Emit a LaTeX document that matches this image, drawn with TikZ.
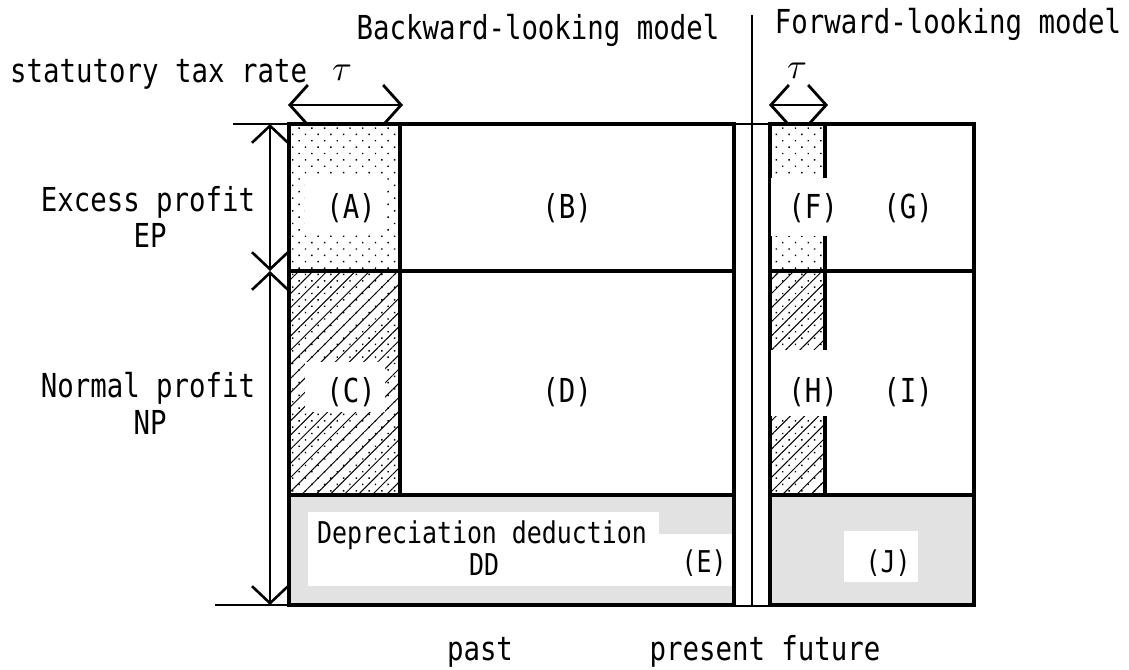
\documentclass[tikz,border=0pt]{standalone}
\usepackage{fontspec}
\newfontfamily\gfont[FakeStretch=0.83]{DejaVu Sans Mono}
\usetikzlibrary{patterns.meta,arrows.meta}
\definecolor{ddgray}{RGB}{226,226,226}
\tikzset{
  txt/.style={font=\gfont\fontsize{33}{36}\selectfont, inner sep=0pt, anchor=base},
  stxt/.style={font=\gfont\fontsize{30}{34}\selectfont, inner sep=0pt, anchor=base},
  taustyle/.style={inner sep=0pt, anchor=base},
  outerbox/.style={line width=4pt},
  innerline/.style={line width=3.5pt},
  thinline/.style={line width=1.3pt},
  dotfill/.style={pattern={Dots[distance=9pt,angle=45,radius=1pt]}},
  hatchfill/.style={pattern={Lines[angle=45,distance=10pt,line width=1pt]}},
  whitebox/.style={fill=white, draw=none},
  barb/.tip={Straight Barb[length=18pt,width=40pt,line width=2.8pt]},
  dimarrow/.style={line width=2.8pt, barb-barb},
  vdimarrow/.style={line width=2pt, {Straight Barb[length=17pt,width=36pt,line width=2.6pt]}-{Straight Barb[length=17pt,width=36pt,line width=2.6pt]}}
}
\newcommand{\bigtau}{\scalebox{3.6}{$\tau$}}
\begin{document}
\begin{tikzpicture}[x=1pt,y=-1pt]
\useasboundingbox (0,0) rectangle (1129,669);
% gray areas
\fill[ddgray] (289,495) rectangle (734,605);
\fill[ddgray] (770,495) rectangle (974,605);
% patterns
\fill[dotfill] (289,124) rectangle (400,271);
\fill[dotfill] (289,271) rectangle (400,495);
\fill[hatchfill] (289,271) rectangle (400,495);
\fill[dotfill] (770,124) rectangle (825,271);
\fill[dotfill] (770,271) rectangle (825,495);
\fill[hatchfill] (770,271) rectangle (825,495);
% thin reference lines
\coordinate (tl0) at (233,124); \coordinate (tl1) at (289,124);
\coordinate (bl0) at (215,605); \coordinate (bl1) at (289,605);
\coordinate (mt0) at (734,124); \coordinate (mt1) at (770,124);
\coordinate (mb0) at (734,606); \coordinate (mb1) at (770,606);
\coordinate (pv0) at (752,15); \coordinate (pv1) at (752,605);
\draw[thinline] (tl0) -- (tl1);
\draw[thinline] (bl0) -- (bl1);
\draw[thinline] (mt0) -- (mt1);
\draw[thinline] (mb0) -- (mb1);
\draw[line width=2pt] (pv0) -- (pv1);
% boxes
\draw[outerbox] (289,124) rectangle (734,605);
\draw[outerbox] (770,124) rectangle (974,605);
\draw[innerline] (289,271) -- (734,271);
\draw[innerline] (289,495) -- (734,495);
\draw[innerline] (400,124) -- (400,495);
\draw[innerline] (770,271) -- (974,271);
\draw[innerline] (770,495) -- (974,495);
\draw[innerline] (825,124) -- (825,495);
% dimension arrows
\coordinate (va) at (270,124); \coordinate (vb) at (270,271); \coordinate (vc) at (270,605);
\draw[vdimarrow] (va) -- (vb);
\draw[vdimarrow] (vb) -- (vc);
\coordinate (ha) at (288,105); \coordinate (hb) at (403,105);
\draw[dimarrow] (ha) -- (hb);
\coordinate (hc) at (769,105); \coordinate (hd) at (828,105);
\draw[dimarrow] (hc) -- (hd);
% white label boxes
\fill[whitebox] (305,178) rectangle (385,233);
\fill[whitebox] (305,362) rectangle (385,412);
\fill[whitebox] (771,178) rectangle (846,236);
\fill[whitebox] (771,350) rectangle (846,416);
\fill[whitebox] (308,512) rectangle (659,586);
\fill[whitebox] (659,534) rectangle (732,586);
\fill[whitebox] (844,531) rectangle (918,582);
% texts
\node[txt] (bw) at (538,40) {Backward-looking model};
\node[txt] (fw) at (948,34) {Forward-looking model};
\node[txt, anchor=base west] (st) at (10,82) {statutory tax rate};
\node[taustyle] (tau1) at (342,80) {\bigtau};
\node[taustyle] (tau2) at (797,78) {\bigtau};
\node[txt] (ep1) at (148,211) {Excess profit};
\node[txt] (ep2) at (150,247) {EP};
\node[txt] (np1) at (148,397) {Normal profit};
\node[txt] (np2) at (150,434) {NP};
\node[txt] (lA) at (351,218) {(A)};
\node[txt] (lB) at (567,218) {(B)};
\node[txt] (lC) at (351,402) {(C)};
\node[txt] (lD) at (567,402) {(D)};
\node[txt] (lF) at (813,218) {(F)};
\node[txt] (lG) at (908,218) {(G)};
\node[txt] (lH) at (813,402) {(H)};
\node[txt] (lI) at (908,402) {(I)};
\node[stxt] (dd1) at (482,543) {Depreciation deduction};
\node[stxt] (dd2) at (484,575) {DD};
\node[stxt] (lE) at (704,572) {(E)};
\node[stxt] (lJ) at (888,572) {(J)};
\node[txt] (past) at (480,660) {past};
\node[txt] (pf) at (765,660) {present future};
\end{tikzpicture}
\end{document}
